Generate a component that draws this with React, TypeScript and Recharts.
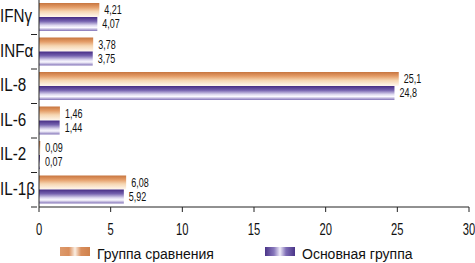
import { BarChart, Bar, XAxis, YAxis, Legend, LabelList } from 'recharts'

const categories = ['IFNγ', 'INFα', 'IL-8', 'IL-6', 'IL-2', 'IL-1β']
const comparisonGroup = [4.21, 3.78, 25.1, 1.46, 0.09, 6.08]
const mainGroup = [4.07, 3.75, 24.8, 1.44, 0.07, 5.92]
const xTicks = [0, 5, 10, 15, 20, 25, 30]
const seriesNames = ['Группа сравнения', 'Основная группа']

const FONT = "'Liberation Sans', Arial, sans-serif"
const AXIS = '#222'
const BAND = 207 / 6

const data = categories.map((name, i) => ({
  name,
  comp: comparisonGroup[i],
  main: mainGroup[i],
}))

const fmt = (v: unknown) => String(v).replace('.', ',')

// condensed look: plain Liberation Sans squeezed horizontally
function CondText({ x, y, size, sx, anchor = 'start', children }: any) {
  return (
    <text
      transform={`translate(${x},${y}) scale(${sx},1)`}
      fontSize={size}
      fontFamily={FONT}
      fill="#111"
      textAnchor={anchor}
    >
      {children}
    </text>
  )
}

function CategoryTick(props: any) {
  const { x, y, payload } = props
  return (
    <g>
      <line x1={x} x2={x + 6} y1={y + BAND / 2} y2={y + BAND / 2} stroke={AXIS} strokeWidth={1} />
      <CondText x={0} y={y + 5} size={19} sx={0.8}>{payload.value}</CondText>
    </g>
  )
}

function NumTick(props: any) {
  const { x, y, payload } = props
  return <CondText x={x} y={y + 21} size={16} sx={0.7} anchor="middle">{payload.value}</CondText>
}

const valueLabel = (props: any) => {
  const { x, y, width, height, value } = props
  return (
    <CondText x={x + width + 5} y={y + height / 2 + 4.3} size={12} sx={0.75}>
      {fmt(value)}
    </CondText>
  )
}

function LegendContent() {
  const items = [
    { label: seriesNames[0], grad: 'legOrange', x: 60 },
    { label: seriesNames[1], grad: 'legPurple', x: 265 },
  ]
  return (
    <svg width={475} height={24} style={{ display: 'block' }}>
      <defs>
        <linearGradient id="legOrange" x1="0" y1="0" x2="1" y2="0">
          <stop offset="0" stopColor="#dd9a6c" />
          <stop offset="0.3" stopColor="#d98e5c" />
          <stop offset="0.5" stopColor="#fbeee2" />
          <stop offset="0.7" stopColor="#d98e5c" />
          <stop offset="1" stopColor="#cf814c" />
        </linearGradient>
        <linearGradient id="legPurple" x1="0" y1="0" x2="1" y2="0">
          <stop offset="0" stopColor="#4a3488" />
          <stop offset="0.3" stopColor="#8878bc" />
          <stop offset="0.5" stopColor="#eeebf8" />
          <stop offset="0.7" stopColor="#7e6db6" />
          <stop offset="1" stopColor="#4a3488" />
        </linearGradient>
      </defs>
      {items.map(it => (
        <g key={it.label}>
          <rect x={it.x} y={8} width={30} height={9} fill={`url(#${it.grad})`} />
          <text x={it.x + 37} y={20} fontSize={14} fontFamily={FONT} fill="#111">
            {it.label}
          </text>
        </g>
      ))}
    </svg>
  )
}

export default function App() {
  return (
    <div style={{ position: 'absolute', left: 0, top: 0, background: '#fff' }}>
      <BarChart
        width={475}
        height={263}
        data={data}
        layout="vertical"
        margin={{ top: 0, right: 6, left: 0, bottom: 0 }}
        barCategoryGap={3}
        barGap={0}
      >
        <defs>
          <linearGradient id="barOrange" x1="0" y1="0" x2="0" y2="1">
            <stop offset="0" stopColor="#c7753f" />
            <stop offset="0.3" stopColor="#e49d68" />
            <stop offset="0.6" stopColor="#f6d6b2" />
            <stop offset="1" stopColor="#fff8ef" />
          </linearGradient>
          <linearGradient id="barPurple" x1="0" y1="0" x2="0" y2="1">
            <stop offset="0" stopColor="#462c84" />
            <stop offset="0.3" stopColor="#7461ae" />
            <stop offset="0.6" stopColor="#ded9f0" />
            <stop offset="0.75" stopColor="#faf9ff" />
            <stop offset="1" stopColor="#8272b8" />
          </linearGradient>
        </defs>
        <XAxis
          type="number"
          domain={[0, 30]}
          ticks={xTicks}
          interval={0}
          stroke={AXIS}
          tickSize={5}
          tick={<NumTick />}
          height={32}
        />
        <YAxis
          type="category"
          dataKey="name"
          width={39}
          stroke={AXIS}
          tickLine={false}
          tick={<CategoryTick />}
        />
        <Legend verticalAlign="bottom" height={24} content={<LegendContent />} />
        <Bar dataKey="comp" name={seriesNames[0]} fill="url(#barOrange)" isAnimationActive={false}>
          <LabelList dataKey="comp" content={valueLabel} />
        </Bar>
        <Bar dataKey="main" name={seriesNames[1]} fill="url(#barPurple)" isAnimationActive={false}>
          <LabelList dataKey="main" content={valueLabel} />
        </Bar>
      </BarChart>
    </div>
  )
}
